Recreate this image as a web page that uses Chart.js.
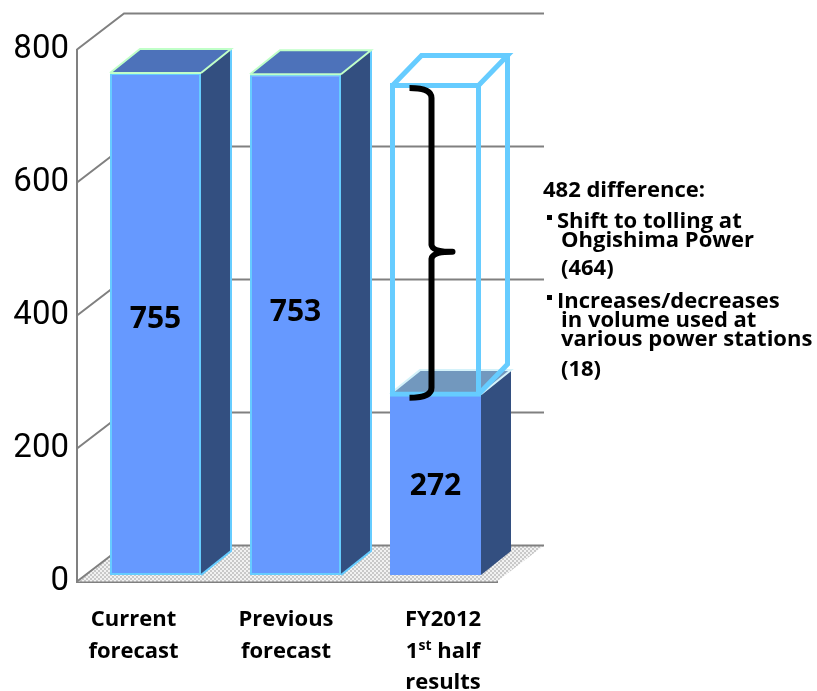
<!DOCTYPE html>
<html>
<head>
<meta charset="utf-8">
<style>
  html, body { margin: 0; padding: 0; background: #fff; }
  #wrap { width: 817px; height: 691px; }
</style>
<script src="https://cdn.jsdelivr.net/npm/chart.js@4"></script>
</head>
<body>
<div id="wrap"><canvas id="chart" width="817" height="691"></canvas></div>
<script>
// Volumes shown on the chart
const categories = ['Current forecast', 'Previous forecast', 'FY2012 1st half results'];
const volumes = [755, 753, 272];
const outlineRange = [268, 740];
const yTicks = [0, 200, 400, 600, 800];

// Axis captions and the side note
const captionLines = [['Current', 'forecast'], ['Previous', 'forecast'], ['FY2012', '1|st| half', 'results']];
const captionBaselines = [626, 658, 689];
const noteLines = [
  { text: '482 difference:', x: 543, y: 197 },
  { text: 'Shift to tolling at', x: 557, y: 228, bullet: true },
  { text: 'Ohgishima Power', x: 561, y: 247 },
  { text: '(464)', x: 561, y: 275 },
  { text: 'Increases/decreases', x: 557, y: 308, bullet: true },
  { text: 'in volume used at', x: 561, y: 327 },
  { text: 'various power stations', x: 561, y: 346 },
  { text: '(18)', x: 561, y: 376 }
];
const captionShift = [-13.5, -1, 16];
const valueLabelShift = [-5, -12, 2];

// Pseudo-3D geometry
const WALL = { dx: 47, dy: -36 };
const FRONT = { dx: 8.5, dy: -6.5 };
const DEPTH = { dx: 30, dy: -24 };
const WIRE_DEPTH = { dx: 29, dy: -30 };
const WIRE_WIDTH = 5;
const GREY = '#808080';
const BOLD_FONT = '"Open Sans", sans-serif';
const TICK_FONT = 'Roboto, sans-serif';

function poly(ctx, pts) {
  ctx.beginPath();
  pts.forEach((p, i) => (i ? ctx.lineTo(p[0], p[1]) : ctx.moveTo(p[0], p[1])));
  ctx.closePath();
}

function ditherPattern(ctx) {
  const c = document.createElement('canvas');
  c.width = c.height = 4;
  const g = c.getContext('2d');
  g.fillStyle = '#f2f2f2';
  g.fillRect(0, 0, 4, 4);
  g.fillStyle = '#c9c9c9';
  g.fillRect(0, 0, 2, 2);
  g.fillRect(2, 2, 2, 2);
  return ctx.createPattern(c, 'repeat');
}

const walls = {
  id: 'walls',
  beforeDatasetsDraw(chart) {
    const { ctx, chartArea: a, scales: { y } } = chart;
    ctx.save();
    // floor
    ctx.fillStyle = ditherPattern(ctx);
    poly(ctx, [[a.left, a.bottom], [a.left + WALL.dx, a.bottom + WALL.dy],
               [a.right + WALL.dx, a.bottom + WALL.dy], [a.right, a.bottom]]);
    ctx.fill();
    // gridlines running up the side wall and along the back wall
    ctx.strokeStyle = GREY;
    ctx.lineWidth = 2;
    yTicks.forEach(v => {
      const py = y.getPixelForValue(v);
      ctx.beginPath();
      ctx.moveTo(a.left, py);
      ctx.lineTo(a.left + WALL.dx, py + WALL.dy);
      ctx.lineTo(a.right + WALL.dx, py + WALL.dy);
      ctx.stroke();
    });
    ctx.restore();
  },
  beforeDatasetDraw(chart, args) {
    const { ctx } = chart;
    ctx.save();
    ctx.translate(FRONT.dx, FRONT.dy);
    if (args.index === 0) {
      args.meta.data.forEach((bar, i) => {
        const l = bar.x - bar.width / 2, r = bar.x + bar.width / 2;
        const t = bar.y, b = bar.base;
        const solidEdge = i < 2;
        // side face
        ctx.fillStyle = '#334f80';
        poly(ctx, [[r, t], [r + DEPTH.dx, t + DEPTH.dy], [r + DEPTH.dx, b + DEPTH.dy], [r, b]]);
        ctx.fill();
        // top face
        ctx.fillStyle = solidEdge ? '#4d72ba' : '#7298be';
        poly(ctx, [[l, t], [l + DEPTH.dx, t + DEPTH.dy], [r + DEPTH.dx, t + DEPTH.dy], [r, t]]);
        ctx.fill();
        ctx.lineWidth = 2;
        if (solidEdge) {
          ctx.strokeStyle = '#66ccff';
          ctx.beginPath();
          ctx.moveTo(r + DEPTH.dx, t + DEPTH.dy);
          ctx.lineTo(r + DEPTH.dx, b + DEPTH.dy);
          ctx.lineTo(r, b);
          ctx.stroke();
        }
        // rim around the top face
        ctx.strokeStyle = solidEdge ? '#c0ffc8' : '#d4f2fa';
        ctx.beginPath();
        ctx.moveTo(l, t);
        ctx.lineTo(l + DEPTH.dx, t + DEPTH.dy);
        ctx.lineTo(r + DEPTH.dx, t + DEPTH.dy);
        ctx.lineTo(r, t);
        ctx.stroke();
      });
    }
  },
  afterDatasetDraw(chart, args) {
    const { ctx } = chart;
    if (args.index === 0) {
      // front edge of the solid bars, above the fill
      args.meta.data.forEach((bar, i) => {
        if (i < 2) {
          const l = bar.x - bar.width / 2, r = bar.x + bar.width / 2;
          ctx.strokeStyle = '#c0ffc8';
          ctx.lineWidth = 2;
          ctx.beginPath();
          ctx.moveTo(l, bar.y);
          ctx.lineTo(r, bar.y);
          ctx.stroke();
        }
      });
    }
    if (args.index === 1) {
      // receding edges of the outlined box, along the centres of its border
      const bar = args.meta.data[2];
      const inset = WIRE_WIDTH / 2;
      const l = bar.x - bar.width / 2 + inset, r = bar.x + bar.width / 2 - inset;
      const t = bar.y + inset, b = bar.base - inset;
      ctx.strokeStyle = '#66ccff';
      ctx.lineWidth = WIRE_WIDTH;
      ctx.lineJoin = 'miter';
      ctx.beginPath();
      ctx.moveTo(l, t);
      ctx.lineTo(l + WIRE_DEPTH.dx, t + WIRE_DEPTH.dy);
      ctx.lineTo(r + WIRE_DEPTH.dx, t + WIRE_DEPTH.dy);
      ctx.lineTo(r, t);
      ctx.moveTo(r + WIRE_DEPTH.dx, t + WIRE_DEPTH.dy);
      ctx.lineTo(r + WIRE_DEPTH.dx, b + WIRE_DEPTH.dy);
      ctx.lineTo(r, b);
      ctx.stroke();
      // brace spanning the outlined range
      const x = bar.x - 4, hook = bar.x - 26, tip = bar.x + 17;
      const top = bar.y + 5, bottom = bar.base + 1, mid = (top + bottom) / 2 + 9;
      ctx.strokeStyle = '#000';
      ctx.lineWidth = 6;
      ctx.lineJoin = 'round';
      ctx.beginPath();
      ctx.moveTo(hook, top);
      ctx.quadraticCurveTo(x, top, x, top + 10);
      ctx.lineTo(x, mid - 7);
      ctx.quadraticCurveTo(x + 1, mid, tip, mid);
      ctx.quadraticCurveTo(x + 1, mid, x, mid + 7);
      ctx.lineTo(x, bottom - 10);
      ctx.quadraticCurveTo(x, bottom, hook, bottom);
      ctx.stroke();
    }
    ctx.restore();
  },
  afterDraw(chart) {
    const { ctx, scales: { x } } = chart;
    const bars = chart.getDatasetMeta(0).data;
    ctx.save();
    ctx.fillStyle = '#000';

    // value labels inside the bars
    ctx.font = 'bold 30px ' + BOLD_FONT;
    ctx.textAlign = 'center';
    ctx.textBaseline = 'middle';
    bars.forEach((bar, i) => {
      ctx.fillText(String(volumes[i]), bar.x + FRONT.dx,
                   (bar.y + bar.base) / 2 + FRONT.dy + valueLabelShift[i]);
    });

    // category captions under the floor
    ctx.textBaseline = 'alphabetic';
    const captionFont = 'bold 22px ' + BOLD_FONT, supFont = 'bold 14px ' + BOLD_FONT;
    captionLines.forEach((lines, i) => {
      const cx = x.getPixelForValue(i) + captionShift[i];
      lines.forEach((line, j) => {
        const by = captionBaselines[j];
        const parts = line.split('|');
        ctx.textAlign = 'left';
        let w = 0;
        parts.forEach((p, k) => {
          ctx.font = k === 1 ? supFont : captionFont;
          w += ctx.measureText(p).width;
        });
        let px = cx - w / 2;
        parts.forEach((p, k) => {
          ctx.font = k === 1 ? supFont : captionFont;
          ctx.fillText(p, px, k === 1 ? by - 8 : by);
          px += ctx.measureText(p).width;
        });
      });
    });

    // side note
    ctx.font = 'bold 22px ' + BOLD_FONT;
    ctx.textAlign = 'left';
    noteLines.forEach(n => {
      ctx.fillText(n.text, n.x, n.y);
      if (n.bullet) ctx.fillRect(n.x - 10, n.y - 13, 5, 5);
    });
    ctx.restore();
  }
};

new Chart(document.getElementById('chart'), {
  type: 'bar',
  data: {
    labels: categories,
    datasets: [
      {
        label: 'Volume',
        data: volumes,
        backgroundColor: '#6699ff',
        borderColor: '#66ccff',
        borderWidth: [2, 2, 0],
        borderSkipped: false,
        barPercentage: 0.65,
        categoryPercentage: 1,
        order: 2
      },
      {
        label: 'Difference',
        data: [null, null, outlineRange],
        backgroundColor: 'rgba(0,0,0,0)',
        borderColor: '#66ccff',
        borderWidth: WIRE_WIDTH,
        borderSkipped: false,
        barPercentage: 0.65,
        categoryPercentage: 1,
        order: 1
      }
    ]
  },
  options: {
    responsive: false,
    animation: false,
    grouped: false,
    layout: { padding: { top: 49.5, right: 320, left: 0, bottom: 0 } },
    plugins: { legend: { display: false }, tooltip: { enabled: false } },
    scales: {
      x: {
        grid: { display: false },
        border: { display: true, color: GREY, width: 3 },
        ticks: { display: false },
        afterFit(s) { s.height = 109.5; }
      },
      y: {
        min: 0,
        max: 800,
        afterBuildTicks(s) { s.ticks = yTicks.map(value => ({ value })); },
        grid: { display: false },
        border: { display: true, color: GREY, width: 2 },
        ticks: {
          padding: 0,
          color: '#000',
          font: { family: TICK_FONT, size: 33 }
        },
        afterFit(s) { s.width = 77; }
      }
    }
  },
  plugins: [walls]
});
</script>
</body>
</html>
